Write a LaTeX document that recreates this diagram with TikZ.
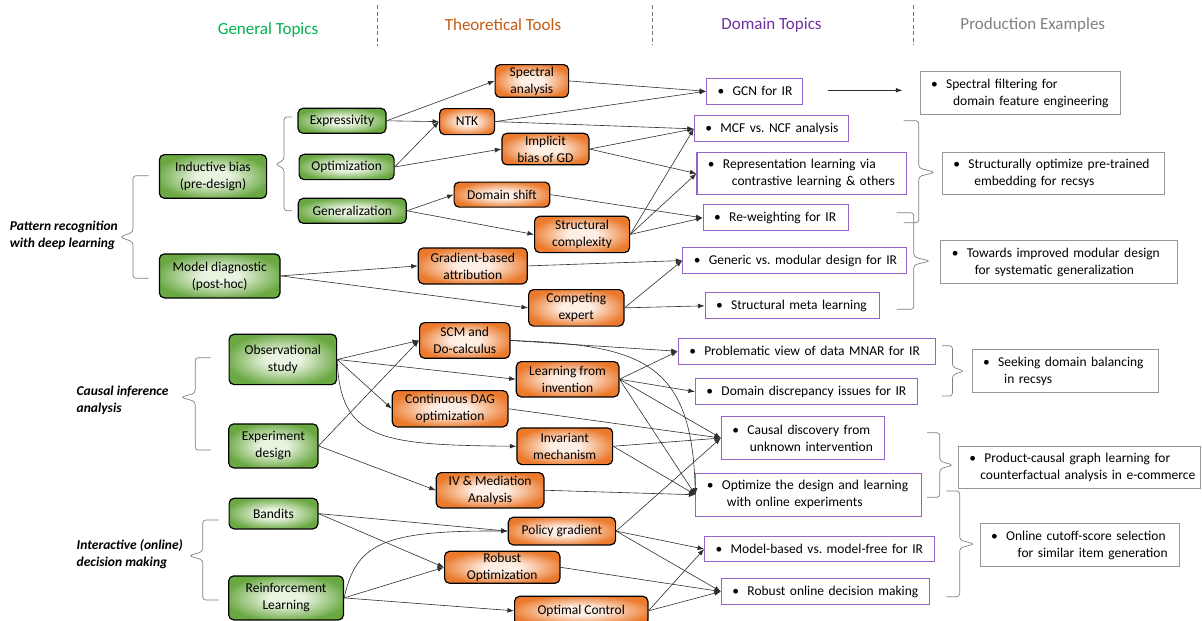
\documentclass[tikz,border=0pt]{standalone}
\usepackage{fontspec}
\setmainfont{Carlito}
\usetikzlibrary{arrows.meta}
\definecolor{gdark}{RGB}{106,168,66}
\definecolor{glight}{RGB}{232,243,224}
\definecolor{odark}{RGB}{235,122,45}
\definecolor{olight}{RGB}{254,238,228}
\definecolor{hgreen}{RGB}{0,176,80}
\definecolor{horange}{RGB}{197,90,17}
\definecolor{hpurple}{RGB}{112,48,160}
\definecolor{hgray}{RGB}{128,128,128}
\definecolor{dborder}{RGB}{150,100,200}
\definecolor{pborder}{RGB}{150,150,150}
\pgfdeclareradialshading{gshade}{\pgfpoint{0bp}{0bp}}{color(0bp)=(glight); color(8bp)=(glight); color(27bp)=(gdark); color(50bp)=(gdark)}
\pgfdeclareradialshading{oshade}{\pgfpoint{0bp}{0bp}}{color(0bp)=(olight); color(8bp)=(olight); color(27bp)=(odark); color(50bp)=(odark)}
\newcommand\bul{\makebox[15pt][l]{\textbullet}}
\newcommand\one[1]{\mbox{\bul#1}}
\newcommand\two[3]{\mbox{\bul#1}\\\mbox{\hspace*{#3}#2}}
\frenchspacing
\begin{document}
\begin{tikzpicture}[x=1pt,y=-1pt,
  every node/.style={font=\fontsize{13.5}{17}\selectfont},
  gnode/.style={draw=black, line width=1.2pt, rounded corners=5pt, shading=gshade, align=center, anchor=north west, inner sep=1pt},
  onode/.style={draw=black, line width=1.2pt, rounded corners=5pt, shading=oshade, align=center, anchor=north west, inner sep=1pt},
  dbox/.style={draw=dborder, line width=1.1pt, fill=white, inner xsep=11pt, inner ysep=1pt, align=left, anchor=north west},
  pbox/.style={draw=pborder, line width=1.1pt, fill=white, inner xsep=11pt, inner ysep=1pt, align=left, anchor=north west},
  head/.style={font=\fontsize{17}{20}\selectfont},
  lab/.style={font=\fontsize{13.5}{17}\selectfont\bfseries\itshape, align=left, anchor=west, inner sep=0pt},
  arr/.style={draw=black!82, line width=0.6pt, -{Latex[length=6.5pt,width=4.8pt]}},
  brace/.style={draw=black!50, line width=0.7pt, rounded corners=3pt},
  sep/.style={draw=black!55, line width=0.6pt, dash pattern=on 4pt off 2.5pt}]
\useasboundingbox (0,0) rectangle (1202,621);
\clip (0,0) rectangle (1202,621);

% headers
\node[head, text=hgreen] (h1) at (268,30) {General Topics};
\node[head, text=horange] (h2) at (503,25) {Theoretical Tools};
\node[head, text=hpurple] (h3) at (771.5,25) {Domain Topics};
\node[head, text=hgray] (h4) at (1032.8,25) {Production Examples};
\draw[sep] (377,5) -- (377,46);
\draw[sep] (652.4,5) -- (652.4,45);
\draw[sep] (913,5) -- (913,45);

% left labels
\node[lab] (l1) at (9.6,235) {Pattern recognition\\with deep learning};
\node[lab] (l2) at (76.5,400.8) {Causal inference\\analysis};
\node[lab] (l3) at (76.5,554.2) {Interactive (online)\\decision making};

% braces (left)
\draw[brace] (148.5,175.7) -- (133,175.7) -- (133,232) -- (120,237) -- (133,242) -- (133,278.3) -- (148.5,278.3);
\draw[brace] (292,117) -- (284,117) -- (284,160) -- (275.5,164.3) -- (284,168.5) -- (284,210.7) -- (292,210.7);
\draw[brace] (210.5,357.7) -- (195.2,357.7) -- (195.2,393) -- (181,397.3) -- (195.2,401.5) -- (195.2,450) -- (210.5,450);
\draw[brace] (218.9,520) -- (202.8,520) -- (202.8,551.5) -- (189,555.7) -- (202.8,560) -- (202.8,600) -- (218.9,600);
% braces (right)
\draw[brace] (903.5,120.7) -- (918.8,120.7) -- (918.8,168) -- (934.9,172.3) -- (918.8,176.5) -- (918.8,222.7) -- (903.5,222.7);
\draw[brace] (896.6,212.7) -- (913.8,212.7) -- (913.8,257) -- (930,261) -- (913.8,265) -- (913.8,309.3) -- (896.6,309.3);
\draw[brace] (941.8,345.7) -- (952.5,345.7) -- (952.5,367) -- (964,371) -- (952.5,375) -- (952.5,396) -- (941.8,396);
\draw[brace] (927,432.7) -- (939.8,432.7) -- (939.8,461) -- (952.8,465) -- (939.8,469) -- (939.8,497.3) -- (927,497.3);
\draw[brace] (946.3,491) -- (959.7,491) -- (959.7,540) -- (974.3,544) -- (959.7,548) -- (959.7,596.7) -- (946.3,596.7);

% general topics
\node[gnode, minimum width=88pt, minimum height=25pt] (expr) at (297.4,107.7) {Expressivity};
\node[gnode, minimum width=95pt, minimum height=25.3pt] (optim) at (298.5,153.7) {Optimization};
\node[gnode, minimum width=108pt, minimum height=25pt] (gener) at (297.7,197.7) {Generalization};
\node[gnode, minimum width=107.2pt, minimum height=43.7pt] (induct) at (158.8,154) {Inductive bias\\(pre-design)};
\node[gnode, minimum width=120.6pt, minimum height=44pt] (diag) at (158.8,253.3) {Model diagnostic\\(post-hoc)};
\node[gnode, minimum width=107.5pt, minimum height=50.3pt] (obs) at (228.5,333.7) {Observational\\study};
\node[gnode, minimum width=89.2pt, minimum height=44pt] (exp) at (228.1,423.3) {Experiment\\design};
\node[gnode, minimum width=88.8pt, minimum height=30.6pt] (band) at (228.5,497.7) {Bandits};
\node[gnode, minimum width=114.8pt, minimum height=44pt] (rl) at (228.1,575.3) {Reinforcement\\Learning};

% theoretical tools
\node[onode, minimum width=73.5pt, minimum height=32.7pt] (spec) at (494.5,64) {Spectral\\analysis};
\node[onode, minimum width=55pt, minimum height=26pt] (ntk) at (439,108) {NTK};
\node[onode, minimum width=87pt, minimum height=31.5pt] (impl) at (501.3,132.7) {Implicit\\bias of GD};
\node[onode, minimum width=95.7pt, minimum height=25pt] (dshift) at (453.5,181.5) {Domain shift};
\node[onode, minimum width=95pt, minimum height=36.3pt] (struct) at (534,215.7) {Structural\\complexity};
\node[onode, minimum width=109pt, minimum height=36pt] (grad) at (417.7,247.3) {Gradient-based\\attribution};
\node[onode, minimum width=95.3pt, minimum height=36.5pt] (comp) at (528,289) {Competing\\expert};
\node[onode, minimum width=90.3pt, minimum height=35.7pt] (scm) at (419,322) {SCM and\\Do-calculus};
\node[onode, minimum width=102.6pt, minimum height=35.3pt] (lfi) at (515.7,361) {Learning from\\invention};
\node[onode, minimum width=115.6pt, minimum height=36.3pt] (dag) at (391.7,390) {Continuous DAG\\optimization};
\node[onode, minimum width=95.7pt, minimum height=36.7pt] (inv) at (516.3,427.3) {Invariant\\mechanism};
\node[onode, minimum width=107.6pt, minimum height=35.3pt] (iv) at (435.7,472) {IV \& Mediation\\Analysis};
\node[onode, minimum width=107.3pt, minimum height=27.6pt] (pg) at (507.7,516.7) {Policy gradient};
\node[onode, minimum width=115.3pt, minimum height=32pt] (ro) at (444,550.7) {Robust\\Optimization};
\node[onode, minimum width=133.3pt, minimum height=29pt] (oc) at (514,595.7) {Optimal Control};

% domain topics
\node[dbox, text width=73.7pt, minimum height=26pt] (gcn) at (706,77.7) {\one{GCN for IR}};
\node[dbox, text width=131.8pt, minimum height=26pt] (mcf) at (693.8,115.3) {\one{MCF vs. NCF analysis}};
\node[dbox, text width=187.8pt, minimum height=42.6pt] (rep) at (696.4,151.7) {\two{Representation learning via}{contrastive learning \& others}{24pt}};
\node[dbox, text width=123pt, minimum height=26pt] (rew) at (702.6,204.3) {\one{Re-weighting for IR}};
\node[dbox, text width=201.9pt, minimum height=26.6pt] (gen) at (682.3,246.7) {\one{Generic vs. modular design for IR}};
\node[dbox, text width=152.1pt, minimum height=26pt] (meta) at (704.5,292.3) {\one{Structural meta learning}};
\node[dbox, text width=235.2pt, minimum height=26pt] (prob) at (677.7,337.7) {\one{Problematic view of data MNAR for IR}};
\node[dbox, text width=200pt, minimum height=26.3pt] (ddisc) at (694.9,378) {\one{Domain discrepancy issues for IR}};
\node[dbox, text width=141.4pt, minimum height=43pt] (cdisc) at (720.9,416) {\two{Causal discovery from}{unknown intervention}{17.4pt}};
\node[dbox, text width=203.4pt, minimum height=43pt] (optd) at (695.3,472.7) {\two{Optimize the design and learning}{with online experiments}{20pt}};
\node[dbox, text width=207.6pt, minimum height=25.6pt] (mb) at (704.1,535.7) {\one{Model-based vs. model-free for IR}};
\node[dbox, text width=186.2pt, minimum height=26pt] (rod) at (720.9,578) {\one{Robust online decision making}};

% production examples
\node[pbox, text width=178.1pt, minimum height=43.6pt] (pe1) at (919.6,70.7) {\two{Spectral filtering for}{domain feature engineering}{22pt}};
\node[pbox, text width=200.3pt, minimum height=42.6pt] (pe2) at (941.8,151.7) {\two{Structurally optimize pre-trained}{embedding for recsys}{21pt}};
\node[pbox, text width=214.5pt, minimum height=43pt] (pe3) at (940.2,240.3) {\two{Towards improved modular design}{for systematic generalization}{23pt}};
\node[pbox, text width=164pt, minimum height=43pt] (pe4) at (971.6,349) {\two{Seeking domain balancing}{in recsys}{21pt}};
\node[pbox, text width=220.2pt, minimum height=42.6pt] (pe5) at (957.8,445.7) {\two{Product-causal graph learning for}{counterfactual analysis in e-commerce}{11pt}};
\node[pbox, text width=177.4pt, minimum height=42.7pt] (pe6) at (979.6,523.3) {\two{Online cutoff-score selection}{for similar item generation}{26.5pt}};

\coordinate (a1) at (827.7,90.3);
\coordinate (a2) at (902.3,90.3);
\draw[arr] (a1) -- (a2);

% pattern recognition edges
\draw[arr] (expr.east) -- (spec.west);
\draw[arr] (expr.east) -- (ntk.west);
\draw[arr] (optim.east) -- (ntk.west);
\draw[arr] (optim.east) -- (impl.west);
\draw[arr] (gener.east) -- (dshift.west);
\draw[arr] (gener.east) -- (struct.west);
\draw[arr] (diag.east) -- (grad.west);
\draw[arr] (diag.east) -- (comp.west);
\draw[arr] (spec.east) -- (gcn.west);
\draw[arr] (ntk.east) -- (gcn.west);
\draw[arr] (ntk.east) -- (mcf.west);
\draw[arr] (impl.east) -- (mcf.west);
\draw[arr] (impl.east) -- (rep.west);
\draw[arr] (dshift.east) -- (rew.west);
\draw[arr] (struct.east) -- (mcf.west);
\draw[arr] (struct.east) -- (rep.west);
\draw[arr] (struct.east) -- (rew.west);
\draw[arr] (grad.east) -- (gen.west);
\draw[arr] (comp.east) -- (gen.west);
\draw[arr] (comp.east) -- (meta.west);

% causal edges
\draw[arr] (obs.east) -- (scm.west);
\draw[arr] (obs.east) -- (lfi.west);
\draw[arr] (obs.east) -- (dag.west);
\draw[arr] (obs.east) .. controls (340,440) and (380,445) .. (inv.west);
\draw[arr] (exp.east) -- (scm.west);
\draw[arr] (exp.east) -- (iv.west);
\draw[arr] (scm.east) -- (prob.west);
\draw[arr] (scm.east) .. controls (640,345) and (692,360) .. (optd.west);
\draw[arr] (lfi.east) -- (prob.west);
\draw[arr] (lfi.east) -- (ddisc.west);
\draw[arr] (lfi.east) -- (cdisc.west);
\draw[arr] (lfi.east) -- (optd.west);
\draw[arr] (dag.east) -- (cdisc.west);
\draw[arr] (inv.east) -- (cdisc.west);
\draw[arr] (inv.east) -- (optd.west);
\draw[arr] (iv.east) -- (optd.west);

% interactive edges
\draw[arr] (band.east) -- (pg.west);
\draw[arr] (band.east) -- (ro.west);
\draw[arr] (rl.east) .. controls (356,545) and (380,530) .. (pg.west);
\draw[arr] (rl.east) -- (ro.west);
\draw[arr] (rl.east) -- (oc.west);
\draw[arr] (pg.east) -- (cdisc.west);
\draw[arr] (pg.east) -- (mb.west);
\draw[arr] (pg.east) -- (rod.west);
\draw[arr] (ro.east) -- (rod.west);
\draw[arr] (oc.east) -- (mb.west);
\draw[arr] (oc.east) -- (rod.west);
\end{tikzpicture}
\end{document}
